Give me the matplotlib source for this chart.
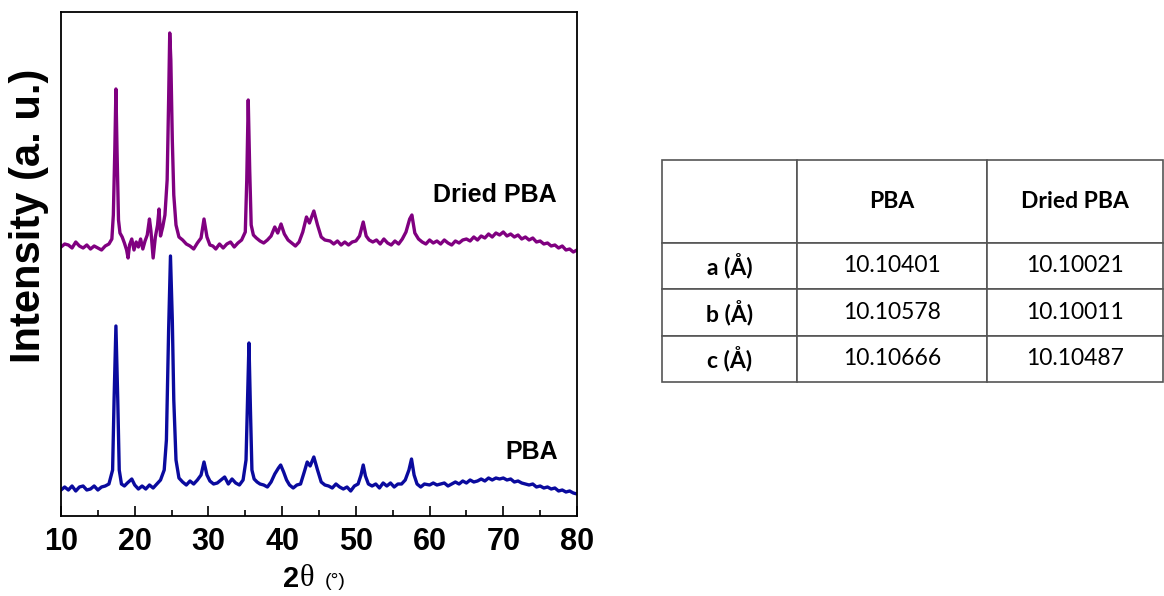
import matplotlib.pyplot as plt
from matplotlib.ticker import MultipleLocator

# XRD patterns (intensity in arbitrary units)
dried_2theta = [
    10.0, 10.5, 11.0, 11.5, 12.0, 12.5, 13.0, 13.5, 14.0, 14.5, 15.0, 15.5, 16.0, 16.5,
    16.9, 17.1, 17.3, 17.45, 17.6, 17.8, 18.0, 18.3, 18.6, 18.9, 19.1, 19.3, 19.6, 19.9,
    20.2, 20.5, 20.8, 21.1, 21.4, 21.7, 22.0, 22.2, 22.5, 22.8, 23.1, 23.3, 23.5, 23.8,
    24.1, 24.4, 24.6, 24.75, 24.9, 25.1, 25.3, 25.6, 26.0, 26.5, 27.0, 27.5, 28.0, 28.5,
    29.0, 29.4, 29.8, 30.2, 30.6, 31.0, 31.5, 32.0, 32.5, 33.0, 33.5, 34.0, 34.5, 35.0,
    35.2, 35.4, 35.6, 35.8, 36.1, 36.5, 37.0, 37.5, 38.0, 38.5, 39.0, 39.4, 39.85, 40.3,
    40.8, 41.3, 41.8, 42.3, 42.8, 43.3, 43.7, 44.3, 44.8, 45.3, 45.8, 46.5, 47.0, 47.5,
    48.0, 48.5, 49.0, 49.5, 50.0, 50.5, 51.0, 51.4, 51.8, 52.3, 52.8, 53.3, 53.8, 54.3,
    54.8, 55.3, 55.8, 56.3, 56.8, 57.3, 57.6, 58.0, 58.5, 59.0, 59.5, 60.0, 60.5, 61.0,
    61.5, 62.0, 62.5, 63.0, 63.5, 64.0, 64.5, 65.0, 65.5, 66.0, 66.5, 67.0, 67.5, 68.0,
    68.5, 69.0, 69.5, 70.0, 70.5, 71.0, 71.5, 72.0, 72.5, 73.0, 73.5, 74.0, 74.5, 75.0,
    75.5, 76.0, 76.5, 77.0, 77.5, 78.0, 78.5, 79.0, 79.5, 80.0,
]
dried_int = [
    269, 272, 271, 268, 274, 270, 268, 271, 267, 270, 268, 266, 270, 272,
    277, 301, 366, 427, 366, 296, 283, 279, 273, 266, 258, 271, 277, 266,
    274, 269, 277, 267, 275, 281, 297, 285, 258, 279, 291, 307, 280, 289,
    301, 336, 416, 483, 456, 376, 321, 291, 279, 276, 272, 270, 267, 273,
    278, 297, 279, 271, 270, 267, 272, 268, 272, 274, 269, 273, 276, 284,
    336, 416, 346, 291, 281, 278, 275, 273, 276, 280, 289, 283, 292, 282,
    276, 273, 270, 274, 284, 299, 293, 305, 291, 279, 276, 275, 272, 275,
    271, 274, 271, 274, 275, 280, 294, 280, 276, 274, 276, 272, 277, 273,
    271, 275, 272, 277, 284, 297, 301, 283, 277, 274, 272, 276, 273, 275,
    272, 276, 273, 271, 275, 273, 276, 277, 275, 279, 276, 280, 278, 282,
    279, 283, 281, 284, 280, 282, 279, 281, 277, 279, 276, 278, 274, 275,
    272, 273, 270, 271, 268, 270, 266, 267, 264, 266,
]

pba_2theta = [
    10.0, 10.5, 11.0, 11.5, 12.0, 12.5, 13.0, 13.5, 14.0, 14.5, 15.0, 15.5, 16.0, 16.5,
    17.0, 17.2, 17.45, 17.7, 17.9, 18.2, 18.6, 19.0, 19.6, 20.0, 20.5, 21.0, 21.5, 22.0,
    22.5, 23.0, 23.5, 24.0, 24.3, 24.6, 24.85, 25.1, 25.3, 25.6, 26.0, 26.5, 27.0, 27.5,
    28.0, 28.5, 29.0, 29.4, 29.8, 30.2, 30.7, 31.2, 31.7, 32.2, 32.7, 33.2, 33.7, 34.2,
    34.7, 35.1, 35.3, 35.5, 35.7, 35.9, 36.2, 36.6, 37.0, 37.5, 38.0, 38.5, 39.0, 39.5,
    39.8, 40.2, 40.6, 41.0, 41.5, 42.0, 42.5, 43.0, 43.4, 43.8, 44.3, 44.8, 45.3, 45.8,
    46.3, 46.8, 47.3, 47.8, 48.3, 48.8, 49.3, 49.8, 50.3, 50.7, 51.0, 51.3, 51.7, 52.2,
    52.7, 53.2, 53.7, 54.2, 54.7, 55.2, 55.7, 56.2, 56.7, 57.2, 57.55, 57.9, 58.3, 58.8,
    59.3, 60.0, 60.5, 61.0, 61.5, 62.0, 62.5, 63.0, 63.5, 64.0, 64.5, 65.0, 65.5, 66.0,
    66.5, 67.0, 67.5, 68.0, 68.5, 69.0, 69.5, 70.0, 70.5, 71.0, 71.5, 72.0, 72.5, 73.0,
    73.5, 74.0, 74.5, 75.0, 75.5, 76.0, 76.5, 77.0, 77.5, 78.0, 78.5, 79.0, 79.5, 80.0,
]
pba_int = [
    26, 29, 26, 30, 25, 29, 30, 26, 27, 30, 26, 29, 30, 32,
    46, 116, 190, 116, 46, 32, 30, 33, 37, 31, 27, 30, 27, 31,
    28, 32, 36, 46, 76, 186, 260, 196, 116, 56, 38, 34, 31, 35,
    32, 36, 41, 54, 41, 35, 32, 33, 36, 39, 32, 37, 33, 31,
    36, 56, 116, 173, 106, 46, 37, 34, 32, 31, 29, 34, 42, 48,
    51, 44, 36, 31, 28, 31, 32, 44, 54, 50, 59, 46, 34, 31,
    30, 28, 32, 29, 27, 29, 25, 30, 32, 41, 51, 40, 32, 30,
    32, 28, 33, 30, 33, 29, 32, 32, 36, 46, 57, 41, 32, 29,
    32, 31, 33, 31, 32, 33, 30, 32, 34, 32, 35, 33, 36, 34,
    35, 37, 35, 38, 36, 38, 37, 38, 36, 37, 34, 35, 33, 32,
    31, 32, 29, 30, 28, 29, 27, 28, 25, 26, 24, 25, 23, 22,
]

# lattice parameter table
row_labels = ["a (Å)", "b (Å)", "c (Å)"]
col_labels = ["", "PBA", "Dried PBA"]
pba_params = ["10.10401", "10.10578", "10.10666"]
dried_params = ["10.10021", "10.10011", "10.10487"]

W, H = 1164, 596
fig = plt.figure(figsize=(W / 100, H / 100), dpi=100)
ax = fig.add_axes([61 / W, 1 - 516 / H, 516 / W, 504 / H])

ax.plot(dried_2theta, dried_int, color="#800080", lw=2.4)
ax.plot(pba_2theta, pba_int, color="#0a0a9e", lw=2.4)

ax.set_xlim(10, 80)
ax.set_ylim(0, 504)
ax.xaxis.set_major_locator(MultipleLocator(10))
ax.xaxis.set_minor_locator(MultipleLocator(5))
ax.tick_params(axis="x", which="major", direction="in", length=7, width=1.2, pad=8)
ax.tick_params(axis="x", which="minor", direction="in", length=4, width=1.2)
ax.set_yticks([])
for sp in ax.spines.values():
    sp.set_linewidth(1.3)
for lbl in ax.get_xticklabels():
    lbl.set_fontsize(22)
    lbl.set_fontweight("bold")
    lbl.set_family("Liberation Sans")

# y label sits above the axes centre in the reference
fig.text(29 / W, 1 - 216 / H, "Intensity (a. u.)", rotation=90, ha="center",
         va="center", fontsize=30, fontweight="bold", family="Liberation Sans")

ax.text(77.3, 321, "Dried PBA", ha="right", va="center", fontsize=18,
        fontweight="bold", family="Liberation Sans")
ax.text(77.4, 64, "PBA", ha="right", va="center", fontsize=18,
        fontweight="bold", family="Liberation Sans")

# x label: bold "2", serif theta, smaller "(°)"
fig.text(299 / W, 1 - 579 / H, "2", ha="right", va="center", fontsize=21,
         fontweight="bold", family="Liberation Sans")
fig.text(300 / W, 1 - 579 / H, "θ", ha="left", va="center", fontsize=22,
         family="Liberation Serif")
fig.text(325 / W, 1 - 582 / H, "(°)", ha="left", va="center", fontsize=14,
         family="Liberation Sans")

# table on the right
tax = fig.add_axes([662 / W, 1 - 382 / H, 501 / W, 222 / H])
tax.axis("off")
cells = [[r, p, d] for r, p, d in zip(row_labels, pba_params, dried_params)]
tbl = tax.table(cellText=cells, colLabels=col_labels, bbox=[0, 0, 1, 1],
                cellLoc="center", colWidths=[135, 190, 176])
tbl.auto_set_font_size(False)
for (r, c), cell in tbl.get_celld().items():
    cell.set_edgecolor("#555555")
    cell.set_linewidth(1.2)
    cell.set_height(82 if r == 0 else 46)
    txt = cell.get_text()
    txt.set_fontsize(16.5)
    txt.set_family("Lato")
    if r == 0 or c == 0:
        txt.set_fontweight("bold")

fig.savefig("out.png", dpi=100)
